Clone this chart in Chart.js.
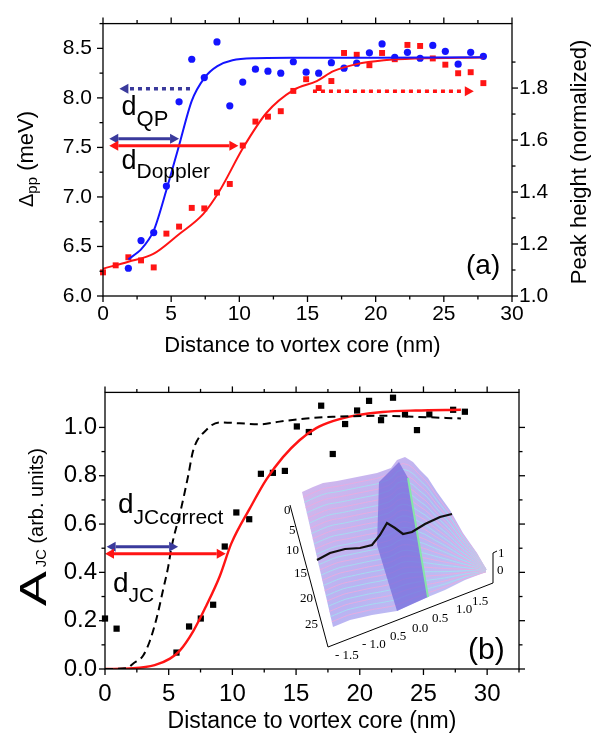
<!DOCTYPE html>
<html>
<head>
<meta charset="utf-8">
<script src="https://cdn.jsdelivr.net/npm/chart.js@4.4.0/dist/chart.umd.min.js"></script>
<style>
  body { margin: 0; background: #fff; width: 601px; height: 740px; overflow: hidden; }
  canvas { position: absolute; left: 0; }
  #ca { top: 0; }
  #cb { top: 370px; }
</style>
</head>
<body>
<canvas id="ca" width="601" height="360"></canvas>
<canvas id="cb" width="601" height="370"></canvas>
<script>
// ---- panel (a) data ----
var distRed = [0, 0.93, 1.86, 2.79, 3.72, 4.65, 5.58, 6.51, 7.43, 8.36, 9.3, 10.25, 11.18, 12.1, 13.04, 13.96,
  14.9, 15.82, 16.75, 17.68, 18.61, 19.54, 20.47, 21.4, 22.33, 23.26, 24.19, 25.11, 26.05, 26.97, 27.9];
var peakHeight = [1.091, 1.118, 1.149, 1.137, 1.110, 1.240, 1.267, 1.339, 1.337, 1.398, 1.431, 1.579, 1.671, 1.690, 1.711, 1.789,
  1.834, 1.800, 1.827, 1.935, 1.928, 1.888, 1.935, 1.911, 1.966, 1.962, 1.914, 1.890, 1.857, 1.861, 1.819];
var distBlue = distRed.slice(2);
var deltaPP = [6.28, 6.56, 6.64, 7.11, 7.96, 8.39, 8.205, 8.565, 7.92, 8.16, 8.29, 8.27, 8.25, 8.365,
  8.26, 8.25, 8.356, 8.30, 8.35, 8.455, 8.545, 8.41, 8.46, 8.40, 8.53, 8.47, 8.34, 8.46, 8.42];
var blueFitX = [1.86, 2.79, 3.72, 4.65, 5.58, 6.51, 7.43, 8.39, 9.5, 11, 14, 20, 27.9];
var blueFitY = [6.37, 6.47, 6.66, 7.07, 7.52, 7.97, 8.2, 8.32, 8.38, 8.40, 8.405, 8.405, 8.41];
var redFitX = [0, 1.86, 3.69, 5.53, 7.36, 8.5, 10.3, 12.0, 13.96, 15.68, 16.9, 18.6, 20.6, 23.0, 27.9];
var redFitY = [1.105, 1.132, 1.162, 1.236, 1.316, 1.40, 1.572, 1.705, 1.792, 1.827, 1.865, 1.892, 1.907, 1.914, 1.918];

// ---- panel (b) data ----
var distJC = [0, 0.91, 5.61, 6.6, 7.52, 8.49, 9.4, 10.31, 11.32, 12.24, 13.18, 14.12, 15.06, 16.0, 16.97,
  17.88, 18.85, 19.79, 20.73, 21.67, 22.61, 23.55, 24.49, 25.46, 27.33, 28.25];
var ampJC = [0.209, 0.167, 0.068, 0.176, 0.209, 0.266, 0.507, 0.648, 0.62, 0.808, 0.812, 0.82, 1.004, 0.981, 1.09,
  0.89, 1.014, 1.07, 1.11, 1.03, 1.123, 1.054, 0.989, 1.054, 1.073, 1.065];
var jcFitX = [0, 2.2, 3.9, 5.1, 5.87, 6.92, 7.96, 9.0, 9.92, 11.36, 12.66, 13.97, 15.27, 16.58, 17.88, 19.71, 21.8, 24.4, 27.94];
var jcFitY = [0, 0.003, 0.016, 0.043, 0.076, 0.156, 0.263, 0.383, 0.52, 0.664, 0.784, 0.877, 0.947, 0.997, 1.026, 1.05, 1.064, 1.07, 1.073];
var jcCorrX = [0, 1.7, 2.22, 3.0, 3.52, 4.05, 4.57, 4.96, 5.22, 6.0, 6.53, 6.92, 7.96, 9.0, 10.57, 12.14, 13.7, 15.8, 17.88, 21.8, 24.4, 27.94];
var jcCorrY = [0, 0.003, 0.023, 0.056, 0.116, 0.21, 0.33, 0.423, 0.503, 0.67, 0.80, 0.904, 0.99, 1.021, 1.017, 1.013, 1.024, 1.037, 1.044, 1.048, 1.044, 1.037];

var FONT = '"Liberation Sans", Arial, Helvetica, sans-serif';
var SERIF = '"Liberation Serif", "Times New Roman", serif';
var BLUE = '#1414ff', RED = '#ff1414', NAVY = '#3a3a9c';

Chart.defaults.font.family = FONT;
Chart.defaults.color = '#000';

function pts(xs, ys) { return xs.map(function (x, i) { return {x: x, y: ys[i]}; }); }
function onStep(v, s) { return Math.abs(v / s - Math.round(v / s)) < 1e-6; }

function axis(pos, min, max, step, major, size, fontSize, pad, labels, digits) {
  return {
    type: 'linear', position: pos, min: min, max: max,
    grid: {display: false, drawTicks: false},
    border: {display: false},
    ticks: {
      display: labels, stepSize: step, autoSkip: false, maxRotation: 0, padding: pad,
      font: {size: fontSize}, color: '#000',
      callback: function (v) { return onStep(v, major) ? (digits ? v.toFixed(digits) : String(v)) : ''; }
    },
    afterFit: function (s) { if (pos === 'left' || pos === 'right') s.width = size; else s.height = size; }
  };
}

// frame + major/minor tick marks, drawn from the scales
function frameTicks(majors) {
  return {
    id: 'frameTicks',
    afterDraw: function (chart) {
      var ctx = chart.ctx, a = chart.chartArea;
      ctx.save();
      ctx.strokeStyle = '#000';
      ctx.lineWidth = 1.3;
      ctx.strokeRect(a.left, a.top, a.right - a.left, a.bottom - a.top);
      Object.keys(chart.scales).forEach(function (id) {
        var s = chart.scales[id], step = s.options.ticks.stepSize;
        s.ticks.forEach(function (t) {
          var v = t.value;
          if (!onStep(v, step)) return;
          var len = onStep(v, majors[id]) ? 6 : 3.5;
          var p = s.getPixelForValue(v);
          ctx.beginPath();
          if (s.position === 'bottom') { ctx.moveTo(p, a.bottom); ctx.lineTo(p, a.bottom + len); }
          else if (s.position === 'top') { ctx.moveTo(p, a.top); ctx.lineTo(p, a.top - len); }
          else if (s.position === 'left') { ctx.moveTo(a.left, p); ctx.lineTo(a.left - len, p); }
          else { ctx.moveTo(a.right, p); ctx.lineTo(a.right + len, p); }
          ctx.stroke();
        });
      });
      ctx.restore();
    }
  };
}

function richText(ctx, x, y, rot, parts, align) {
  ctx.save();
  ctx.translate(x, y);
  ctx.rotate(rot);
  ctx.fillStyle = '#000';
  ctx.textBaseline = 'alphabetic';
  ctx.textAlign = 'left';
  var total = 0;
  parts.forEach(function (p) {
    ctx.font = p.size + 'px ' + FONT;
    p.w = ctx.measureText(p.t).width * (p.sx || 1) + (p.gap || 0);
    total += p.w;
  });
  var cx = align === 'center' ? -total / 2 : 0;
  parts.forEach(function (p) {
    ctx.font = p.size + 'px ' + FONT;
    ctx.save();
    ctx.translate(cx + (p.gap || 0), p.dy || 0);
    ctx.scale(p.sx || 1, 1);
    ctx.fillText(p.t, 0, 0);
    ctx.restore();
    cx += p.w;
  });
  ctx.restore();
}

function drawArrow(ctx, xs, ys, ar) {
  var x1 = xs.getPixelForValue(ar.x1), x2 = xs.getPixelForValue(ar.x2), y = ys.getPixelForValue(ar.y);
  var dir = x2 > x1 ? 1 : -1, hl = ar.head || 9, hw = 5;
  ctx.save();
  ctx.strokeStyle = ar.color;
  ctx.fillStyle = ar.color;
  ctx.lineWidth = ar.lw || 3;
  ctx.setLineDash(ar.dash || []);
  ctx.beginPath();
  ctx.moveTo(ar.both ? x1 + dir * hl : x1, y);
  ctx.lineTo(x2 - dir * hl, y);
  ctx.stroke();
  ctx.setLineDash([]);
  function head(tip, d) {
    ctx.beginPath();
    ctx.moveTo(tip, y);
    ctx.lineTo(tip - d * hl, y - hw);
    ctx.lineTo(tip - d * hl, y + hw);
    ctx.closePath();
    ctx.fill();
  }
  head(x2, dir);
  if (ar.both) head(x1, -dir);
  ctx.restore();
}

// ---------------- panel (a) ----------------
var arrowsA = [
  {x1: 6.38, x2: 1.2, y: 8.093, color: NAVY, dash: [4, 4], lw: 3.5},
  {x1: 0.46, x2: 5.58, y: 7.587, color: NAVY, both: true},
  {x1: 0.46, x2: 9.93, y: 7.516, color: RED, both: true},
  {x1: 15.4, x2: 27.2, y: 8.067, color: RED, dash: [4, 4], lw: 3.5}
];

new Chart(document.getElementById('ca'), {
  type: 'scatter',
  data: {
    datasets: [
      {data: pts(blueFitX, blueFitY), showLine: true, borderColor: BLUE, borderWidth: 2, pointRadius: 0, tension: 0.25, yAxisID: 'y'},
      {data: pts(redFitX, redFitY), showLine: true, borderColor: RED, borderWidth: 2, pointRadius: 0, cubicInterpolationMode: 'monotone', yAxisID: 'y2'},
      {data: pts(distBlue, deltaPP), pointStyle: 'circle', pointRadius: 3.6, backgroundColor: BLUE, borderWidth: 0, yAxisID: 'y', clip: false},
      {data: pts(distRed, peakHeight), pointStyle: 'rect', pointRadius: 4.2, backgroundColor: RED, borderWidth: 0, yAxisID: 'y2', clip: false}
    ]
  },
  options: {
    responsive: false, animation: false, events: [],
    layout: {padding: 0},
    plugins: {legend: {display: false}, tooltip: {enabled: false}},
    scales: {
      x: axis('bottom', 0, 30, 2.5, 5, 64, 21, 6, true, 0),
      x2: axis('top', 0, 30, 2.5, 5, 10, 21, 0, false, 0),
      y: axis('left', 6, 8.75, 0.25, 0.5, 103, 21, 11, true, 1),
      y2: axis('right', 1, 2.048, 0.1, 0.2, 89, 21, 7, true, 1)
    }
  },
  plugins: [frameTicks({x: 5, x2: 5, y: 0.5, y2: 0.2}), {
    id: 'annA',
    afterDatasetsDraw: function (chart) {
      var ctx = chart.ctx;
      arrowsA.forEach(function (ar) { drawArrow(ctx, chart.scales.x, chart.scales.y, ar); });
    },
    afterDraw: function (chart) {
      var ctx = chart.ctx;
      richText(ctx, 33, 159, -Math.PI / 2, [{t: 'Δ', size: 20}, {t: 'pp', size: 15, dy: 4}, {t: ' (meV)', size: 22}], 'center');
      richText(ctx, 586, 162, -Math.PI / 2, [{t: 'Peak height (normalized)', size: 22}], 'center');
      richText(ctx, 302.5, 352, 0, [{t: 'Distance to vortex core (nm)', size: 22}], 'center');
      richText(ctx, 121.5, 115, 0, [{t: 'd', size: 27}, {t: 'QP', size: 22, dy: 11}]);
      richText(ctx, 121.5, 169, 0, [{t: 'd', size: 27}, {t: 'Doppler', size: 21, dy: 9}]);
      richText(ctx, 466, 274, 0, [{t: '(a)', size: 28}]);
    }
  }]
});

// ---------------- panel (b) ----------------
var arrowsB = [
  {x1: 0.13, x2: 5.74, y: 0.506, color: NAVY, both: true},
  {x1: 0, x2: 9.48, y: 0.477, color: RED, both: true}
];

// inset: a flat picture of the 3-D surface map (page pixel coords)
var insetTop = [[302, 492], [313, 487], [323, 483], [337, 481], [357, 477], [377, 473], [391, 468], [397, 460], [405, 457],
  [413, 462], [420, 470], [428, 478], [437, 492], [450, 510], [463, 533], [477, 553], [486, 569]];
var insetBottom = [[333, 627], [350, 620], [372, 615], [397, 611], [412, 604], [428, 597], [445, 590], [465, 580], [486, 572]];
var insetRidge = [[379, 482], [399, 462], [408, 478], [428, 597], [397, 611], [377, 545]];
var insetTrace = [[317, 560], [330, 553], [345, 549], [360, 548], [372, 545], [380, 535], [387, 523], [395, 528],
  [403, 534], [412, 532], [425, 524], [440, 517], [452, 514]];
var insetLeftLabels = [['0', 284, 514], ['5', 289, 534], ['10', 286, 554], ['15', 294, 577], ['20', 300, 602], ['25', 305, 628]];
var insetBottomLabels = [['- 1.5', 335, 659], ['- 1.0', 362, 648], ['0.5', 390, 640], ['0.0', 412, 632], ['0.5', 432, 622], ['1.0', 456, 613], ['1.5', 472, 605]];
var insetZLabels = [['1', 498, 557], ['0', 497, 574]];

function resample(poly, n) {
  var cum = [0];
  for (var i = 1; i < poly.length; i++) {
    cum.push(cum[i - 1] + Math.hypot(poly[i][0] - poly[i - 1][0], poly[i][1] - poly[i - 1][1]));
  }
  var L = cum[cum.length - 1], out = [], j = 1;
  for (var k = 0; k < n; k++) {
    var d = L * k / (n - 1);
    while (j < poly.length - 1 && cum[j] < d) j++;
    var f = (d - cum[j - 1]) / (cum[j] - cum[j - 1] || 1);
    out.push([poly[j - 1][0] + f * (poly[j][0] - poly[j - 1][0]), poly[j - 1][1] + f * (poly[j][1] - poly[j - 1][1])]);
  }
  return out;
}

function polyPath(ctx, p) {
  ctx.beginPath();
  p.forEach(function (q, i) { if (i) ctx.lineTo(q[0], q[1]); else ctx.moveTo(q[0], q[1]); });
}

function drawInset(ctx) {
  ctx.save();
  ctx.translate(0, -370);
  var outline = insetTop.concat(insetBottom.slice().reverse());
  var g = ctx.createLinearGradient(300, 460, 490, 630);
  g.addColorStop(0, '#d6b8ec');
  g.addColorStop(0.5, '#b9b3f2');
  g.addColorStop(1, '#c4c6f4');
  polyPath(ctx, outline);
  ctx.closePath();
  ctx.fillStyle = g;
  ctx.fill();
  var n = 40, top = resample(insetTop, n), bot = resample(insetBottom, n), rows = 26;
  for (var r = 1; r < rows; r++) {
    var t = r / rows, line = [];
    for (var i = 0; i < n; i++) {
      line.push([top[i][0] + t * (bot[i][0] - top[i][0]), top[i][1] + t * (bot[i][1] - top[i][1])]);
    }
    polyPath(ctx, line);
    ctx.strokeStyle = r % 2 ? 'rgba(236,170,222,0.85)' : 'rgba(160,228,240,0.8)';
    ctx.lineWidth = 1;
    ctx.stroke();
  }
  polyPath(ctx, insetRidge);
  ctx.closePath();
  ctx.fillStyle = 'rgba(118,108,220,0.75)';
  ctx.fill();
  ctx.beginPath();
  ctx.moveTo(408, 478); ctx.lineTo(428, 597);
  ctx.strokeStyle = '#86e6a8'; ctx.lineWidth = 2; ctx.stroke();
  polyPath(ctx, insetTrace);
  ctx.strokeStyle = '#111'; ctx.lineWidth = 2.2; ctx.stroke();
  // inset axes
  ctx.strokeStyle = '#000'; ctx.lineWidth = 1;
  ctx.beginPath();
  ctx.moveTo(290, 505); ctx.lineTo(328, 647); ctx.lineTo(493, 583); ctx.lineTo(493, 553); ctx.lineTo(497, 551);
  ctx.stroke();
  ctx.fillStyle = '#000';
  ctx.font = '13px ' + SERIF;
  ctx.textAlign = 'left';
  ctx.textBaseline = 'alphabetic';
  insetLeftLabels.concat(insetBottomLabels, insetZLabels).forEach(function (l) { ctx.fillText(l[0], l[1], l[2]); });
  ctx.restore();
}

new Chart(document.getElementById('cb'), {
  type: 'scatter',
  data: {
    datasets: [
      {data: pts(jcCorrX, jcCorrY), showLine: true, borderColor: '#000', borderWidth: 2, borderDash: [8, 5], pointRadius: 0, cubicInterpolationMode: 'monotone'},
      {data: pts(jcFitX, jcFitY), showLine: true, borderColor: RED, borderWidth: 2.4, pointRadius: 0, cubicInterpolationMode: 'monotone'},
      {data: pts(distJC, ampJC), pointStyle: 'rect', pointRadius: 4.4, backgroundColor: '#000', borderWidth: 0, clip: false}
    ]
  },
  options: {
    responsive: false, animation: false, events: [],
    layout: {padding: 0},
    plugins: {legend: {display: false}, tooltip: {enabled: false}},
    scales: {
      x: axis('bottom', 0, 32.5, 2.5, 5, 71, 24, 11, true, 0),
      x2: axis('top', 0, 32.5, 2.5, 5, 13, 24, 0, false, 0),
      y: axis('left', 0, 1.145, 0.1, 0.2, 105, 24, 8, true, 1),
      y2: axis('right', 0, 1.145, 0.1, 0.2, 82, 24, 0, false, 1)
    }
  },
  plugins: [frameTicks({x: 5, x2: 5, y: 0.2, y2: 0.2}), {
    id: 'annB',
    beforeDatasetsDraw: function (chart) { drawInset(chart.ctx); },
    afterDatasetsDraw: function (chart) {
      var ctx = chart.ctx;
      arrowsB.forEach(function (ar) { drawArrow(ctx, chart.scales.x, chart.scales.y, ar); });
    },
    afterDraw: function (chart) {
      var ctx = chart.ctx;
      richText(ctx, 46, 157, -Math.PI / 2, [{t: 'A', size: 36, sx: 1.45}, {t: 'JC', size: 14, sx: 1.05, gap: 4}, {t: ' (arb. units)', size: 20, dy: -3}], 'center');
      richText(ctx, 312, 358, 0, [{t: 'Distance to vortex core (nm)', size: 23}], 'center');
      richText(ctx, 118, 143, 0, [{t: 'd', size: 28}, {t: 'JCcorrect', size: 21, dy: 11}]);
      richText(ctx, 113, 222, 0, [{t: 'd', size: 28}, {t: 'JC', size: 21, dy: 10}]);
      richText(ctx, 468, 289, 0, [{t: '(b)', size: 30}]);
    }
  }]
});
</script>
</body>
</html>
